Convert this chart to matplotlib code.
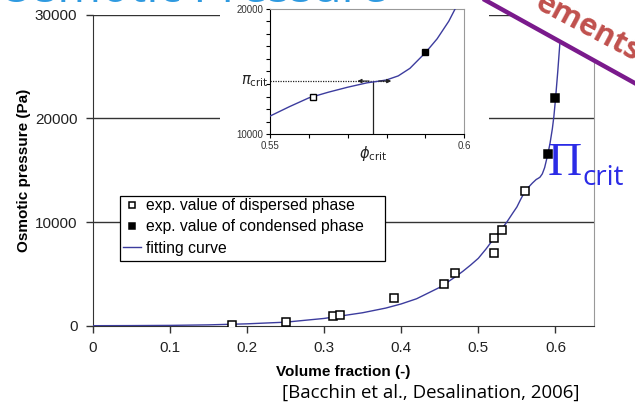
import matplotlib.pyplot as plt
from matplotlib.patches import Rectangle, Polygon
from matplotlib.lines import Line2D

disp_x = [0.181, 0.25, 0.311, 0.321, 0.391, 0.456, 0.470, 0.520, 0.520, 0.531, 0.561]
disp_y = [100, 330, 960, 1060, 2690, 4040, 5070, 6990, 8500, 9230, 12980]
cond_x = [0.590, 0.600]
cond_y = [16540, 21990]

# fitting curve
fit_x = [0.0, 0.05, 0.1, 0.15, 0.2, 0.25, 0.3, 0.35, 0.38, 0.4, 0.42, 0.45,
         0.47, 0.48, 0.49, 0.5, 0.51, 0.52, 0.53, 0.537, 0.545, 0.55, 0.555,
         0.56, 0.565, 0.57, 0.575, 0.578, 0.58, 0.583, 0.586, 0.59, 0.593,
         0.596, 0.598, 0.6, 0.603, 0.606, 0.609, 0.612]
fit_y = [0, 10, 30, 80, 180, 340, 700, 1250, 1700, 2100, 2600, 3700,
         4700, 5250, 5850, 6500, 7400, 8400, 9300, 10000, 10900, 11450, 12200,
         12900, 13350, 13750, 14100, 14230, 14330, 14650, 15250, 16500, 17600,
         19000, 20200, 21800, 24500, 27500, 30500, 33500]

phi_crit = 0.5765
pi_crit = 14240

W, H = 635, 405
curve_col = '#3c3c9e'
plt.rcParams['font.family'] = ['Liberation Sans', 'DejaVu Sans']

fig = plt.figure(figsize=(W / 100, H / 100), dpi=100)


def fx(px):
    return px / W


def fy(py):
    return 1 - py / H


ax_l, ax_r, ax_t, ax_b = 92.7, 594, 14.7, 325.7
ax = fig.add_axes([fx(ax_l), fy(ax_b), fx(ax_r) - fx(ax_l), fy(ax_t) - fy(ax_b)])
ax.plot(fit_x, fit_y, color=curve_col, lw=1.0, label='fitting curve', zorder=3)
ax.plot(disp_x, disp_y, 's', ms=5.5, mfc='white', mec='black', mew=1.1,
        label='exp. value of dispersed phase', zorder=4)
ax.plot(cond_x, cond_y, 's', ms=5.5, mfc='black', mec='black', mew=1.1,
        label='exp. value of condensed phase', zorder=4)
ax.set_xlim(0, 0.65)
ax.set_ylim(0, 30000)
ax.set_xticks([0, 0.1, 0.2, 0.3, 0.4, 0.5, 0.6])
ax.set_xticklabels(['0', '0.1', '0.2', '0.3', '0.4', '0.5', '0.6'])
ax.set_yticks([0, 10000, 20000, 30000])
for yv in [10000, 20000, 30000]:
    ax.axhline(yv, color='#333333', lw=1.0, zorder=1)
ax.spines['top'].set_visible(False)
ax.spines['right'].set_color('#999999')
ax.spines['left'].set_color('#333333')
ax.spines['bottom'].set_color('#333333')
ax.tick_params(direction='out', length=5, width=1, colors='#333333',
               labelsize=11, labelcolor='#222222', pad=6)
ax.set_xlabel('Volume fraction (-)', fontsize=11, fontweight='bold', labelpad=7)
ax.set_ylabel('Osmotic pressure (Pa)', fontsize=11, fontweight='bold', labelpad=3)

# legend: box drawn separately so the padding can follow the original
fig.add_artist(Rectangle((fx(120), fy(261)), fx(385) - fx(120), fy(196) - fy(261),
                         transform=fig.transFigure, facecolor='white',
                         edgecolor='black', lw=0.9, zorder=1))
handles, labels = ax.get_legend_handles_labels()
order = [1, 2, 0]
leg = fig.legend([handles[i] for i in order], [labels[i] for i in order],
                 loc='upper left', bbox_to_anchor=(fx(121), fy(196.5)),
                 fontsize=11.3, frameon=False, handlelength=1.2,
                 handletextpad=0.3, borderpad=0.1, labelspacing=0.4,
                 borderaxespad=0, markerscale=0.8)
leg.set_zorder(2)

# white block behind the inset
fig.add_artist(Rectangle((fx(220), fy(155)), fx(489) - fx(220), fy(0) - fy(155),
                         transform=fig.transFigure, facecolor='white',
                         edgecolor='none', zorder=1))

# inset
ins = fig.add_axes([fx(270), fy(134.3), fx(464.3) - fx(270), fy(8.7) - fy(134.3)])
ins.set_zorder(2)
ins.plot(fit_x, fit_y, color=curve_col, lw=1.0, zorder=3)
ins.plot(disp_x, disp_y, 's', ms=5, mfc='white', mec='black', mew=1.0, zorder=4)
ins.plot(cond_x, cond_y, 's', ms=5, mfc='black', mec='black', mew=1.0, zorder=4)
ins.set_xlim(0.55, 0.6)
ins.set_ylim(10000, 20000)
ins.set_xticks([0.55, 0.56, 0.57, 0.58, 0.59, 0.6])
ins.set_xticklabels(['0.55', '', '', '', '', '0.6'])
ins.set_yticks(range(10000, 20001, 1000))
ins.set_yticklabels(['10000'] + [''] * 9 + ['20000'])
ins.tick_params(direction='out', length=3, width=0.8, labelsize=7,
                labelcolor='#333333', pad=2)
ins.spines['top'].set_color('#999999')
ins.spines['right'].set_color('#999999')
ins.plot([0.55, 0.581], [pi_crit, pi_crit], color='#222222', lw=0.9, ls=(0, (1, 1)), zorder=2)
ins.plot([phi_crit, phi_crit], [10000, pi_crit], color='#222222', lw=0.9, zorder=2)
ins.annotate('', xy=(0.5725, pi_crit), xytext=(0.5755, pi_crit),
             arrowprops=dict(arrowstyle='-|>', color='#222222', lw=0.8,
                             mutation_scale=6, shrinkA=0, shrinkB=0))
ins.annotate('', xy=(0.5812, pi_crit), xytext=(0.578, pi_crit),
             arrowprops=dict(arrowstyle='-|>', color='#222222', lw=0.8,
                             mutation_scale=6, shrinkA=0, shrinkB=0))
ins.text(0.5495, pi_crit, r'$\pi_{\rm crit}$', fontsize=10.5, ha='right', va='center',
         color='#222222')
ins.text(phi_crit, 9200, r'$\phi_{\rm crit}$', fontsize=10.5, ha='center', va='top',
         color='#222222')

# slide decorations
fig.text(fx(-2), fy(1.5), 'Osmotic Pressure', fontsize=34, color='#2f9ae0',
         family='Open Sans', va='baseline', ha='left', zorder=3)
fig.add_artist(Polygon([(fx(485), fy(0)), (fx(640), fy(0)), (fx(640), fy(86))],
                       closed=True, transform=fig.transFigure, facecolor='white',
                       edgecolor='none', zorder=8))
fig.add_artist(Line2D([fx(485), fx(640)], [fy(0), fy(86)], color='#7a1a8c',
                      lw=3.2, transform=fig.transFigure, zorder=10))
fig.text(fx(635), fy(62), 'ements', fontsize=22, color='#c0504d',
         family='Open Sans', fontweight='bold', rotation=-28,
         rotation_mode='anchor', ha='right', va='baseline', zorder=9)
fig.text(fx(548), fy(175), '\u03a0', fontsize=34, color='#2b2be6',
         family='Liberation Serif', va='baseline', ha='left', zorder=10)
fig.text(fx(583), fy(185), 'crit', fontsize=20, color='#2b2be6',
         family='Open Sans', va='baseline', ha='left', zorder=10)
fig.text(fx(580), fy(393), '[Bacchin et al., Desalination, 2006]', fontsize=13.4,
         family='Open Sans', color='black', ha='right', va='center')

fig.savefig('out.png', dpi=100)
